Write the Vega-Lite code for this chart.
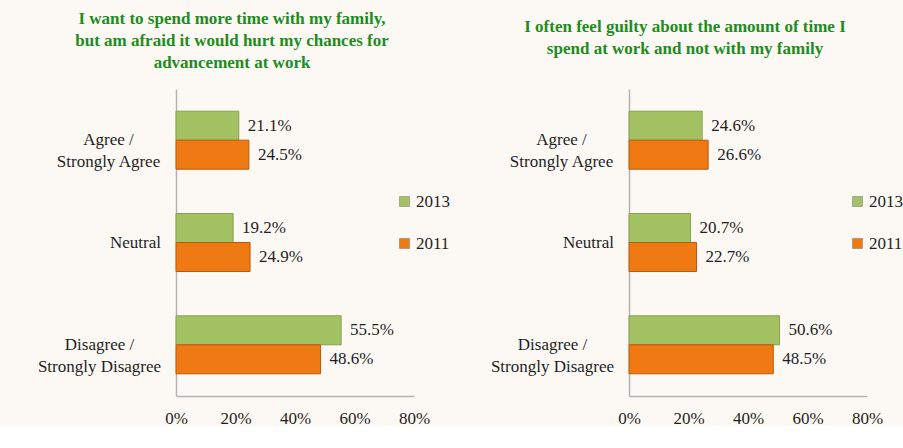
{
  "$schema": "https://vega.github.io/schema/vega-lite/v6.json",
  "background": "#fcf9f5",
  "padding": {"left": 37, "top": 10, "right": 0, "bottom": 0},
  "bounds": "flush",
  "spacing": 215,
  "data": {"values": [
    {"panel": "A", "cat": "Agree / Strongly Agree", "year": "2013", "value": 0.211},
    {"panel": "A", "cat": "Agree / Strongly Agree", "year": "2011", "value": 0.245},
    {"panel": "A", "cat": "Neutral", "year": "2013", "value": 0.192},
    {"panel": "A", "cat": "Neutral", "year": "2011", "value": 0.249},
    {"panel": "A", "cat": "Disagree / Strongly Disagree", "year": "2013", "value": 0.555},
    {"panel": "A", "cat": "Disagree / Strongly Disagree", "year": "2011", "value": 0.486},
    {"panel": "B", "cat": "Agree / Strongly Agree", "year": "2013", "value": 0.246},
    {"panel": "B", "cat": "Agree / Strongly Agree", "year": "2011", "value": 0.266},
    {"panel": "B", "cat": "Neutral", "year": "2013", "value": 0.207},
    {"panel": "B", "cat": "Neutral", "year": "2011", "value": 0.227},
    {"panel": "B", "cat": "Disagree / Strongly Disagree", "year": "2013", "value": 0.506},
    {"panel": "B", "cat": "Disagree / Strongly Disagree", "year": "2011", "value": 0.485}
  ]},
  "config": {
    "font": "Liberation Serif",
    "view": {"stroke": null},
    "axis": {"labelFont": "Liberation Serif", "labelFontSize": 17, "labelColor": "#1f1f1f", "ticks": false, "tickSize": 0, "grid": false, "domain": true, "domainColor": "#b4b4b4", "domainWidth": 1.5, "title": null},
    "legend": {"labelFont": "Liberation Serif", "labelFontSize": 17, "labelColor": "#1f1f1f", "symbolType": "square", "symbolSize": 100, "rowPadding": 24, "labelOffset": 3, "padding": 0, "symbolStrokeWidth": 0.5, "symbolStrokeColor": "#777777"},
    "title": {"font": "Liberation Serif", "fontSize": 17, "fontWeight": "bold", "color": "#1e8c1e", "lineHeight": 22, "anchor": "middle", "baseline": "bottom"},
    "text": {"font": "Liberation Serif", "fontSize": 17, "color": "#1f1f1f"}
  },
  "resolve": {"scale": {"color": "independent"}, "legend": {"color": "independent"}},
  "hconcat": [
    {
      "width": 238, "height": 307,
      "title": {"text": ["I want to spend more time with my family,", "but am afraid it would hurt my chances for", "advancement at work"], "offset": 17, "dx": -63},
      "transform": [{"filter": "datum.panel == 'A'"}],
      "encoding": {
        "y": {"field": "cat", "type": "nominal", "sort": ["Agree / Strongly Agree", "Neutral", "Disagree / Strongly Disagree"],
          "scale": {"paddingInner": 0.433, "paddingOuter": 0.217},
          "axis": {"labelAlign": "center", "labelLineHeight": 22, "labelBaseline": "middle",
            "labelPadding": {"condition": [{"test": "datum.value == 'Neutral'", "value": 41}, {"test": "datum.value == 'Disagree / Strongly Disagree'", "value": 77}], "value": 68},
            "labelExpr": "datum.value == 'Agree / Strongly Agree' ? ['Agree /', 'Strongly Agree'] : datum.value == 'Disagree / Strongly Disagree' ? ['Disagree /', 'Strongly Disagree'] : datum.value"}},
        "yOffset": {"field": "year", "type": "nominal", "sort": ["2013", "2011"], "scale": {"paddingInner": 0, "paddingOuter": 0}},
        "x": {"field": "value", "type": "quantitative", "scale": {"domain": [0, 0.8]}, "axis": {"format": ".0%", "values": [0, 0.2, 0.4, 0.6, 0.8], "labelPadding": 14, "labelFlush": false, "domain": true}}
      },
      "layer": [
        {"mark": {"type": "bar", "strokeWidth": 1},
         "encoding": {
           "color": {"field": "year", "type": "nominal", "scale": {"domain": ["2013", "2011"], "range": ["#a3c263", "#ef7a14"]}, "legend": {"orient": "none", "legendX": 220, "legendY": 104, "title": null}},
           "stroke": {"field": "year", "type": "nominal", "scale": {"domain": ["2013", "2011"], "range": ["#86a34c", "#b95a0a"]}, "legend": null}
         }},
        {"mark": {"type": "text", "align": "left", "baseline": "middle", "dx": 9}, "encoding": {"text": {"field": "value", "type": "quantitative", "format": ".1%"}}}
      ]
    },
    {
      "width": 238, "height": 307,
      "title": {"text": ["I often feel guilty about the amount of time I", "spend at work and not with my family"], "offset": 31, "dx": -63},
      "transform": [{"filter": "datum.panel == 'B'"}],
      "encoding": {
        "y": {"field": "cat", "type": "nominal", "sort": ["Agree / Strongly Agree", "Neutral", "Disagree / Strongly Disagree"],
          "scale": {"paddingInner": 0.433, "paddingOuter": 0.217},
          "axis": {"labelAlign": "center", "labelLineHeight": 22, "labelBaseline": "middle",
            "labelPadding": {"condition": [{"test": "datum.value == 'Neutral'", "value": 41}, {"test": "datum.value == 'Disagree / Strongly Disagree'", "value": 77}], "value": 68},
            "labelExpr": "datum.value == 'Agree / Strongly Agree' ? ['Agree /', 'Strongly Agree'] : datum.value == 'Disagree / Strongly Disagree' ? ['Disagree /', 'Strongly Disagree'] : datum.value"}},
        "yOffset": {"field": "year", "type": "nominal", "sort": ["2013", "2011"], "scale": {"paddingInner": 0, "paddingOuter": 0}},
        "x": {"field": "value", "type": "quantitative", "scale": {"domain": [0, 0.8]}, "axis": {"format": ".0%", "values": [0, 0.2, 0.4, 0.6, 0.8], "labelPadding": 14, "labelFlush": false, "domain": true}}
      },
      "layer": [
        {"mark": {"type": "bar", "strokeWidth": 1},
         "encoding": {
           "color": {"field": "year", "type": "nominal", "scale": {"domain": ["2013", "2011"], "range": ["#a3c263", "#ef7a14"]}, "legend": {"orient": "none", "legendX": 220, "legendY": 104, "title": null}},
           "stroke": {"field": "year", "type": "nominal", "scale": {"domain": ["2013", "2011"], "range": ["#86a34c", "#b95a0a"]}, "legend": null}
         }},
        {"mark": {"type": "text", "align": "left", "baseline": "middle", "dx": 9}, "encoding": {"text": {"field": "value", "type": "quantitative", "format": ".1%"}}}
      ]
    }
  ]
}
